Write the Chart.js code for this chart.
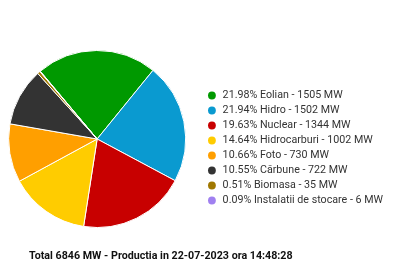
<!DOCTYPE html>
<html>
<head>
<meta charset="utf-8">
<script src="https://cdn.jsdelivr.net/npm/chart.js@4/dist/chart.umd.min.js"></script>
<style>
    body { margin: 0; background: #fff; }
    #wrap { position: relative; width: 400px; height: 277px; overflow: hidden; }
    #pie-chart { position: absolute; left: -8px; top: 0; }
    #total {
        position: absolute; left: 29px; top: 249px;
        font: bold 10.7px Roboto, sans-serif; line-height: 14px; color: #111;
    }
</style>
</head>
<body>
<div id="wrap">
    <canvas id="pie-chart" width="408" height="277"></canvas>
    <div id="total"></div>
</div>
<script>
    "use strict";

    // Productia pe surse
    var surse = ["Eolian", "Hidro", "Nuclear", "Hidrocarburi", "Foto", "Cărbune", "Biomasa", "Instalatii de stocare"];
    var putere = [1505, 1502, 1344, 1002, 730, 722, 35, 6];
    var culori = ["#009900", "#0a9ad0", "#c80000", "#ffcc00", "#ff9f00", "#333333", "#a07800", "#a080f0"];
    var ora = "22-07-2023 ora 14:48:28";

    var total = putere.reduce(function (a, b) { return a + b; }, 0);
    var etichete = surse.map(function (s, i) {
        return (putere[i] / total * 100).toFixed(2) + "% " + s + " - " + putere[i] + " MW";
    });

    document.getElementById("total").textContent = "Total " + total + " MW - Productia in " + ora;

    // legenda fara contur alb pe buline
    var legendLabels = function (chart) {
        var items = Chart.overrides.pie.plugins.legend.labels.generateLabels(chart);
        items.forEach(function (it) { it.lineWidth = 0; });
        return items;
    };

    var ctx = document.getElementById("pie-chart").getContext("2d");
    var myChart = new Chart(ctx, {
        type: "pie",
        data: {
            labels: etichete,
            datasets: [{
                data: putere,
                backgroundColor: culori,
                borderColor: "#ffffff",
                borderWidth: 1
            }]
        },
        options: {
            responsive: false,
            animation: false,
            rotation: -40,
            layout: { padding: { left: 0, right: 7, top: 50, bottom: 49 } },
            plugins: {
                tooltip: { enabled: false },
                legend: {
                    position: "right",
                    title: { display: true, text: "", font: { size: 10 }, padding: 3 },
                    labels: {
                        usePointStyle: true,
                        pointStyle: "circle",
                        boxWidth: 11,
                        boxHeight: 5.5,
                        padding: 4.3,
                        color: "#333",
                        font: { family: "Roboto", size: 10.7 },
                        generateLabels: legendLabels
                    }
                }
            }
        }
    });
</script>
</body>
</html>
